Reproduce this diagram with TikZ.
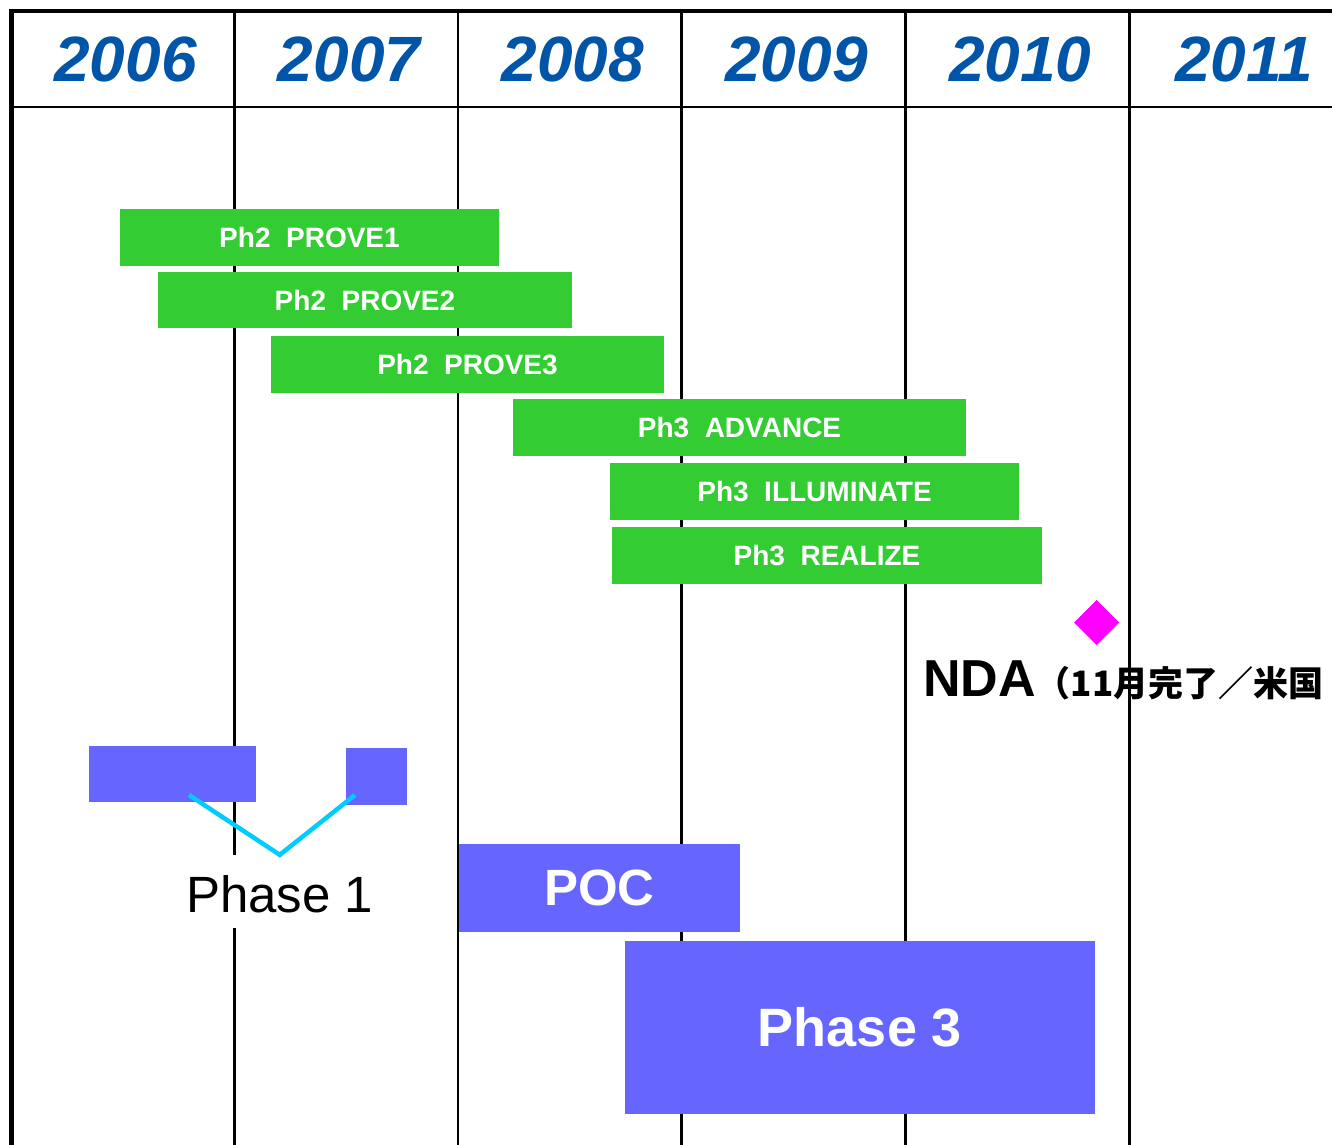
\documentclass[tikz,border=0pt]{standalone}
\usepackage{fontspec}
\setmainfont{Liberation Sans}
\newfontfamily\cjk{Noto Sans CJK JP}
\usetikzlibrary{shapes.geometric}
\definecolor{yearblue}{RGB}{0,85,168}
\definecolor{bargreen}{RGB}{51,204,51}
\definecolor{barblue}{RGB}{102,102,255}
\definecolor{vcyan}{RGB}{0,204,255}
\definecolor{ndamag}{RGB}{255,0,255}
\tikzset{
  gridline/.style={line width=2.8pt, black},
  yearlbl/.style={text=yearblue, font=\fontsize{64}{70}\selectfont\bfseries\itshape, inner sep=0},
  barbox/.style={anchor=north west, inner sep=0, outer sep=0, draw=none, text=white},
  gbar/.style={barbox, fill=bargreen, font=\fontsize{28}{30}\selectfont\bfseries},
  bbar/.style={barbox, fill=barblue},
  vline/.style={line width=4.5pt, vcyan},
}
\begin{document}
\begin{tikzpicture}[x=1pt,y=-1pt]
\clip (0,0) rectangle (1332,1144);
\fill[white] (0,0) rectangle (1332,1144);
% grid
\foreach \i in {1,...,5}{
  \draw[gridline] ({10.6+223.7*\i},11) -- ({10.6+223.7*\i},1150);
}
\draw[line width=2.2pt] (11.5,107) -- (1340,107);
\draw[line width=4.5pt] (9,11) -- (1340,11);
\draw[line width=5pt] (11.5,9) -- (11.5,1150);
% years
\foreach \y [count=\k from 0] in {2006,2007,2008,2009,2010,2011}{
  \node[yearlbl] (yr\y) at ({13.6+223.7*\k+111.85},59.5) {\y};
}
% green bars
\node[gbar, minimum width=379pt, minimum height=57pt] (prove1) at (120,209) {Ph2~~PROVE1};
\node[gbar, minimum width=414pt, minimum height=56pt] (prove2) at (158,272) {Ph2~~PROVE2};
\node[gbar, minimum width=393pt, minimum height=57pt] (prove3) at (271,336) {Ph2~~PROVE3};
\node[gbar, minimum width=453pt, minimum height=57pt] (advance) at (513,399) {Ph3~~ADVANCE};
\node[gbar, minimum width=409pt, minimum height=57pt] (illum) at (610,463) {Ph3~~ILLUMINATE};
\node[gbar, minimum width=430pt, minimum height=57pt] (realize) at (612,527) {Ph3~~REALIZE};
% NDA
\node[diamond, fill=ndamag, minimum size=45pt, inner sep=0, outer sep=0] (ndamark) at (1096.5,622.5) {};
\node[anchor=base west, inner sep=0] (ndatext) at (923,696)
  {{\fontsize{52}{56}\selectfont\bfseries NDA}{\cjk\bfseries\fontsize{35}{40}\selectfont （11月完了／米国}};
% blue bars
\node[bbar, minimum width=167pt, minimum height=56pt] (p1a) at (89,746) {};
\node[bbar, minimum width=61pt, minimum height=57pt] (p1b) at (346,748) {};
\node[bbar, minimum width=281pt, minimum height=88pt, font=\fontsize{51}{56}\selectfont\bfseries] (poc) at (459,844) {POC};
\node[bbar, minimum width=470pt, minimum height=173pt, font=\fontsize{54}{60}\selectfont\bfseries] (phase3) at (625,941) {Phase 3};
% Phase 1 label
\node[anchor=base west, fill=white, text height=45pt, text depth=4pt, inner ysep=12pt, inner xsep=4pt,
      font=\fontsize{51}{56}\selectfont] (p1lbl) at (182,912) {Phase 1};
\coordinate (p1aend) at (189,795);
\coordinate (p1bend) at (355,795);
\draw[vline] (p1aend) -- (p1lbl.north) -- (p1bend);
\end{tikzpicture}
\end{document}
